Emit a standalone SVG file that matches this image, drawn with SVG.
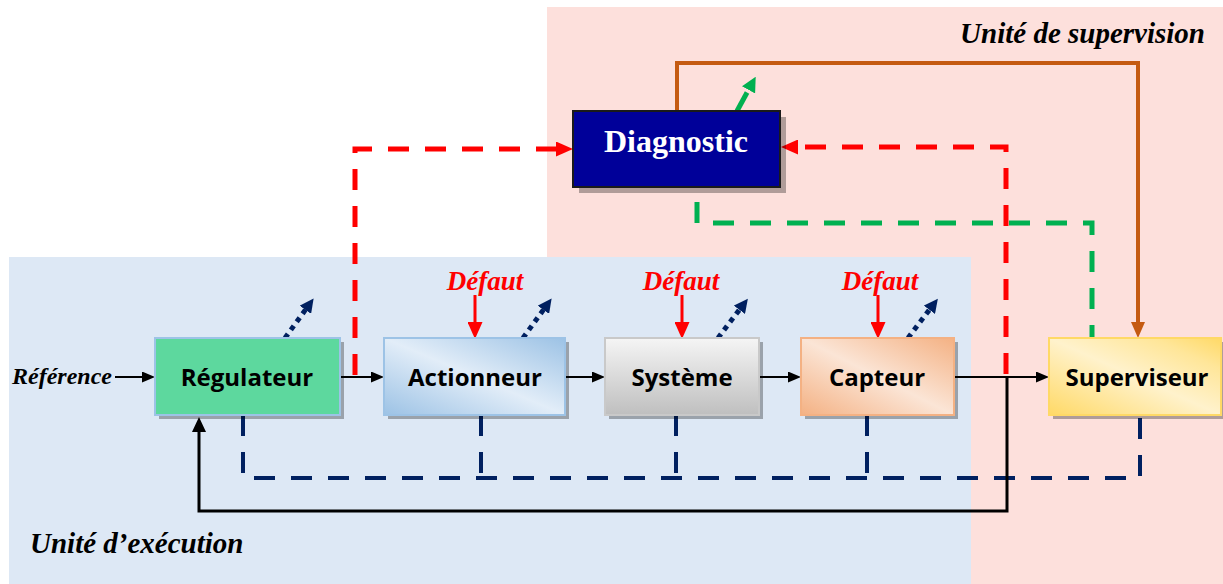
<svg xmlns="http://www.w3.org/2000/svg" width="1223" height="584" viewBox="0 0 1223 584">
<style>
.lbl{font-family:"Open Sans","Liberation Sans",sans-serif;font-weight:bold;font-size:24px;fill:#000;text-anchor:middle}
.ti{font-family:"Liberation Serif","DejaVu Serif",serif;font-weight:bold;font-style:italic;fill:#000}
.def{font-family:"Liberation Serif","DejaVu Serif",serif;font-weight:bold;font-style:italic;font-size:27px;fill:#ff0000;text-anchor:middle}
.sh{fill:#000;fill-opacity:0.3}
.navyd{fill:none;stroke:#002060;stroke-width:4;stroke-dasharray:21 16}
.navydot{fill:none;stroke:#002060;stroke-width:5;stroke-dasharray:5 5}
.redd{fill:none;stroke:#ff0000;stroke-width:5;stroke-dasharray:21 16}
.greend{fill:none;stroke:#00b050;stroke-width:5;stroke-dasharray:21 16}
.blk{fill:none;stroke:#000;stroke-width:2}
.red{fill:none;stroke:#ff0000;stroke-width:3}
</style>
<defs>
<marker id="ab" markerUnits="userSpaceOnUse" markerWidth="13" markerHeight="11" refX="1" refY="5.5" orient="auto"><path d="M0,0 L13,5.5 L0,11 z" fill="#000"/></marker>
<marker id="ab2" markerUnits="userSpaceOnUse" markerWidth="15" markerHeight="14" refX="1" refY="7" orient="auto"><path d="M0,0 L15,7 L0,14 z" fill="#000"/></marker>
<marker id="ar" markerUnits="userSpaceOnUse" markerWidth="17" markerHeight="15" refX="1" refY="7.5" orient="auto"><path d="M0,0 L17,7.5 L0,15 z" fill="#ff0000"/></marker>
<marker id="ao" markerUnits="userSpaceOnUse" markerWidth="16" markerHeight="14" refX="1" refY="7" orient="auto"><path d="M0,0 L16,7 L0,14 z" fill="#c55a11"/></marker>
<marker id="ag" markerUnits="userSpaceOnUse" markerWidth="15" markerHeight="15" refX="1" refY="7.5" orient="auto"><path d="M0,0 L15,7.5 L0,15 z" fill="#00b050"/></marker>
<marker id="an" markerUnits="userSpaceOnUse" markerWidth="14" markerHeight="14" refX="1" refY="7" orient="auto"><path d="M0,0 L14,7 L0,14 z" fill="#002060"/></marker>
<linearGradient id="gAct" x1="0" y1="1" x2="1" y2="0"><stop offset="0" stop-color="#9cc2e5"/><stop offset="0.5" stop-color="#e2edf8"/><stop offset="1" stop-color="#9cc2e5"/></linearGradient>
<linearGradient id="gSys" x1="0" y1="0" x2="0" y2="1"><stop offset="0" stop-color="#f5f5f5"/><stop offset="1" stop-color="#bfbfbf"/></linearGradient>
<linearGradient id="gCap" x1="0" y1="1" x2="1" y2="0"><stop offset="0" stop-color="#f4b183"/><stop offset="0.5" stop-color="#fbe5d6"/><stop offset="1" stop-color="#f4b183"/></linearGradient>
<linearGradient id="gSup" x1="0" y1="1" x2="1" y2="0"><stop offset="0" stop-color="#ffd966"/><stop offset="0.5" stop-color="#fff2cc"/><stop offset="0.8" stop-color="#ffe699"/><stop offset="1" stop-color="#ffd966"/></linearGradient>
</defs>

<g id="backgrounds">
<rect x="547" y="7" width="676" height="577" fill="#fde0dc"/>
<rect x="9" y="257" width="962" height="327" fill="#dde8f5"/>
</g>

<g id="titles">
<text class="ti" x="1205" y="43" font-size="29" text-anchor="end">Unité de supervision</text>
<text class="ti" x="30" y="553" font-size="29">Unité d’exécution</text>
<text class="ti" x="112" y="384" font-size="24" text-anchor="end">Référence</text>
<text class="def" x="485" y="290">Défaut</text>
<text class="def" x="681" y="290">Défaut</text>
<text class="def" x="880" y="290">Défaut</text>
</g>

<g id="connectors">
<path d="M677,111 V63 H1138 V323" fill="none" stroke="#c55a11" stroke-width="4" marker-end="url(#ao)"/>
<path class="greend" d="M697,202 V223 H1092 V338"/>
<path class="greend" d="M737,111 L749,89" marker-end="url(#ag)"/>
<path class="redd" d="M355,375 V149 H557" marker-end="url(#ar)"/>
<path class="redd" d="M1006,374 V147 H797" marker-end="url(#ar)"/>
<path class="navyd" d="M243,415 V478 H1140 V415"/>
<path class="navyd" d="M481,415 V478"/>
<path class="navyd" d="M676,415 V478"/>
<path class="navyd" d="M867,415 V478"/>
<path class="navydot" d="M285,338 L306,309" marker-end="url(#an)"/>
<path class="navydot" d="M523,338 L544,309" marker-end="url(#an)"/>
<path class="navydot" d="M718,338 L740,309" marker-end="url(#an)"/>
<path class="navydot" d="M908,338 L930,309" marker-end="url(#an)"/>
<path class="red" d="M475,295 V323" marker-end="url(#ar)"/>
<path class="red" d="M682,295 V323" marker-end="url(#ar)"/>
<path class="red" d="M878,295 V323" marker-end="url(#ar)"/>
<path class="blk" d="M115,377 H143" marker-end="url(#ab)"/>
<path class="blk" d="M340,377 H372" marker-end="url(#ab)"/>
<path class="blk" d="M565,377 H593" marker-end="url(#ab)"/>
<path class="blk" d="M759,377 H789" marker-end="url(#ab)"/>
<path class="blk" d="M954,377 H1037" marker-end="url(#ab)"/>
<path d="M1007,377 V511 H199 V431" fill="none" stroke="#000" stroke-width="3" marker-end="url(#ab2)"/>
</g>

<g id="diagnostic">
<rect class="sh" x="579" y="117" width="207" height="76"/>
<rect x="573" y="111" width="207" height="76" fill="#000099" stroke="#1a1a1a" stroke-width="2"/>
<text x="676" y="152" font-family="'Liberation Serif','DejaVu Serif',serif" font-weight="bold" font-size="32" fill="#fff" text-anchor="middle">Diagnostic</text>
</g>

<g id="regulateur">
<rect class="sh" x="159" y="342" width="185" height="77"/>
<rect x="155" y="338" width="185" height="77" fill="#5dd89e" stroke="#9dc3e6" stroke-width="2"/>
<text class="lbl" x="247" y="386">Régulateur</text>
</g>

<g id="actionneur">
<rect class="sh" x="388" y="342" width="181" height="77"/>
<rect x="384" y="338" width="181" height="77" fill="url(#gAct)" stroke="#9dc3e6" stroke-width="2"/>
<text class="lbl" x="475" y="386">Actionneur</text>
</g>

<g id="systeme">
<rect class="sh" x="609" y="342" width="154" height="77"/>
<rect x="605" y="338" width="154" height="77" fill="url(#gSys)" stroke="#c9c9c9" stroke-width="2"/>
<text class="lbl" x="682" y="386">Système</text>
</g>

<g id="capteur">
<rect class="sh" x="805" y="342" width="153" height="77"/>
<rect x="801" y="338" width="153" height="77" fill="url(#gCap)" stroke="#f4b183" stroke-width="2"/>
<text class="lbl" x="877" y="386">Capteur</text>
</g>

<g id="superviseur">
<rect class="sh" x="1053" y="342" width="172" height="77"/>
<rect x="1049" y="338" width="172" height="77" fill="url(#gSup)" stroke="#ffd966" stroke-width="2"/>
<text class="lbl" x="1137" y="386">Superviseur</text>
</g>
</svg>
